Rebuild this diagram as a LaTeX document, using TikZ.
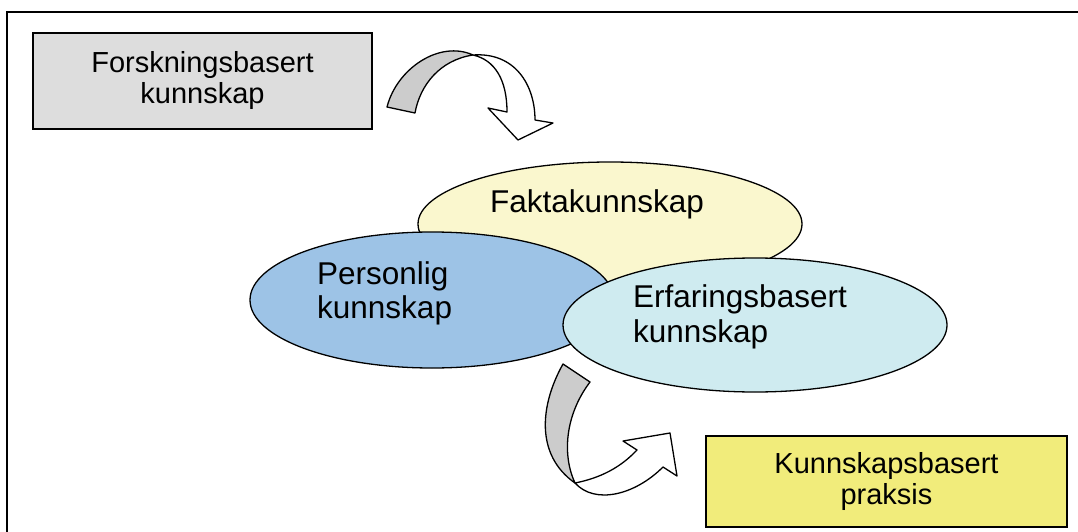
\documentclass[tikz,border=0pt]{standalone}
\usepackage{fontspec}
\setmainfont{Liberation Sans}
\usetikzlibrary{shapes.geometric}
\definecolor{graa}{HTML}{DDDDDD}
\definecolor{pilgraa}{HTML}{CCCCCC}
\definecolor{gul}{HTML}{F1EC7B}
\definecolor{lysgul}{HTML}{FAF7CE}
\definecolor{blaa}{HTML}{9DC3E6}
\definecolor{lysblaa}{HTML}{CFEBF0}

\begin{document}
\begin{tikzpicture}[x=1pt,y=-1pt,
		boks/.style={draw,line width=1.8pt,inner sep=0pt,align=center,font=\fontsize{29}{31}\selectfont},
		sirkel/.style={ellipse,draw,line width=1.3pt,inner sep=0pt},
		tekst/.style={align=left,inner sep=0pt,anchor=west,font=\fontsize{31.5}{34.5}\selectfont},
		pil/.style={draw,line width=1.3pt,line join=round}]
			\useasboundingbox (0,0) rectangle (1078,532);
			% ramme
			\draw[line width=2pt] (7,533) -- (7,12.5) -- (1079,12.5);
			% boksene
			\node[boks,fill=graa,minimum width=339pt,minimum height=96pt] (forsk) at (202.5,81) {Forskningsbasert\\kunnskap};
			\node[boks,fill=gul,minimum width=361pt,minimum height=91pt] (praksis) at (886.5,481.5) {Kunnskapsbasert\\praksis};
			% ellipsene
			\node[sirkel,fill=lysgul,minimum width=384pt,minimum height=124pt] (fakta) at (610,224) {};
			\node[tekst] at (490,204) {Faktakunnskap};
			\node[sirkel,fill=blaa,minimum width=364pt,minimum height=136pt] (personlig) at (432,300) {};
			\node[tekst] at (317,293.5) {Personlig\\kunnskap};
			\node[sirkel,fill=lysblaa,minimum width=384pt,minimum height=134pt] (erfaring) at (755,325) {};
			\node[tekst] at (633,317) {Erfaringsbasert\\kunnskap};
			% pil oppe
			\draw[pil,fill=pilgraa] (387,107) .. controls (397,68) and (440,40) .. (473,55)
				.. controls (440,60) and (420,85) .. (415,113) -- cycle;
			\draw[pil,fill=white] (473,55) .. controls (515,52) and (535,85) .. (535,120)
				-- (553,123) -- (518,140) -- (488,108) -- (507,112)
				.. controls (507,80) and (495,60) .. (473,55) -- cycle;
			% pil nede
			\draw[pil,fill=pilgraa] (563,364) .. controls (540,405) and (535,455) .. (575,483)
				.. controls (562,455) and (565,415) .. (590,382) -- cycle;
			\draw[pil,fill=white] (575,483) .. controls (600,478) and (620,468) .. (637,450)
				-- (623,441) -- (670,433) -- (677,476) -- (663,467)
				.. controls (635,495) and (595,505) .. (575,483) -- cycle;
		\end{tikzpicture}
\end{document}
